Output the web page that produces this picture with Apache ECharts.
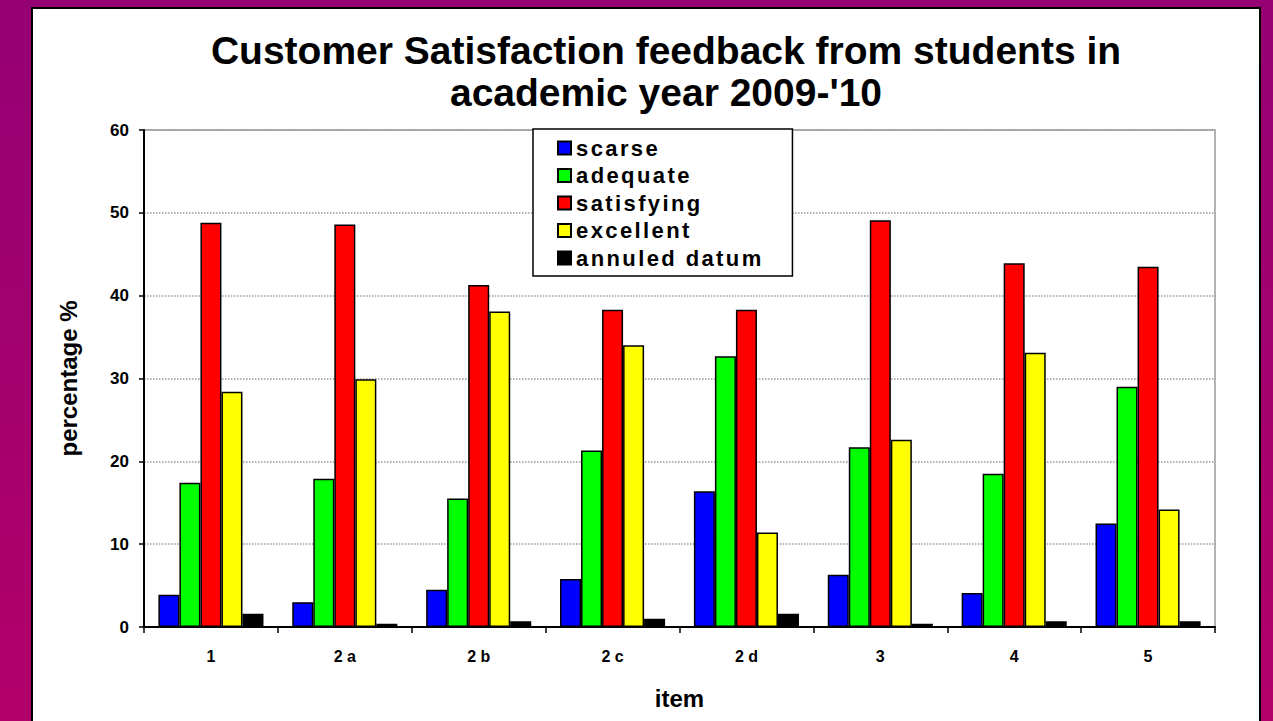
<!DOCTYPE html>
<html><head><meta charset="utf-8">
<script src="https://cdn.jsdelivr.net/npm/echarts@6/dist/echarts.min.js"></script>
<style>html,body{margin:0;padding:0;background:#a0006e;} #chart{width:1273px;height:721px;}</style>
</head><body><div id="chart"></div>
<script>
const categories = ['1', '2 a', '2 b', '2 c', '2 d', '3', '4', '5'];
const scarse     = [3.9, 3.0, 4.5, 5.8, 16.4, 6.3, 4.1, 12.5];
const adequate   = [17.4, 17.9, 15.5, 21.3, 32.7, 21.7, 18.5, 29.0];
const satisfying = [48.8, 48.6, 41.3, 38.3, 38.3, 49.1, 43.9, 43.5];
const excellent  = [28.4, 29.9, 38.1, 34.0, 11.4, 22.6, 33.1, 14.2];
const annuled    = [1.6, 0.4, 0.7, 1.0, 1.6, 0.4, 0.7, 0.7];
const seriesNames = ['scarse', 'adequate', 'satisfying', 'excellent', 'annuled datum'];
const seriesColors = ['#0000ff', '#00ff00', '#ff0000', '#ffff00', '#000000'];
const seriesData = [scarse, adequate, satisfying, excellent, annuled];

const FONT = "'Liberation Sans', Arial, sans-serif";
const chart = echarts.init(document.getElementById('chart'), null, {renderer: 'svg'});

const option = {
  animation: false,
  backgroundColor: {
    type: 'linear', x: 0, y: 0, x2: 0, y2: 1,
    colorStops: [{offset: 0, color: '#950073'}, {offset: 1, color: '#b2006a'}]
  },
  graphic: [{
    type: 'rect', z: -100,
    shape: {x: 32, y: 8, width: 1228, height: 740},
    style: {fill: '#ffffff', stroke: '#000000', lineWidth: 2}
  }],
  title: {
    text: "Customer Satisfaction feedback from students in\nacademic year 2009-'10",
    left: 661, top: 24, textAlign: 'center',
    textStyle: {fontFamily: FONT, fontWeight: 'bold', fontSize: 39, lineHeight: 42, color: '#000'}
  },
  legend: {
    orient: 'vertical', left: 533, top: 129,
    data: seriesNames,
    icon: 'rect',
    itemWidth: 13, itemHeight: 13, itemGap: 5.5,
    padding: [8, 60, 7, 24],
    backgroundColor: '#ffffff', borderColor: '#000000', borderWidth: 1.5,
    textStyle: {fontFamily: FONT, fontWeight: 'bold', fontSize: 22, color: '#000'}
  },
  grid: {
    left: 144, right: 58, top: 130, bottom: 94,
    show: true, borderColor: '#999999', borderWidth: 1.5, backgroundColor: 'transparent'
  },
  xAxis: {
    type: 'category', data: categories,
    name: 'item', nameLocation: 'middle', nameGap: 59,
    nameTextStyle: {fontFamily: FONT, fontWeight: 'bold', fontSize: 24, color: '#000'},
    axisLine: {lineStyle: {color: '#000', width: 2}},
    axisTick: {show: true, length: 6, lineStyle: {color: '#000', width: 1.5}},
    axisLabel: {fontFamily: FONT, fontWeight: 'bold', fontSize: 16, color: '#000', margin: 21}
  },
  yAxis: {
    type: 'value', min: 0, max: 60, interval: 10,
    name: 'percentage %', nameLocation: 'middle', nameGap: 64,
    nameTextStyle: {fontFamily: FONT, fontWeight: 'bold', fontSize: 24, color: '#000'},
    axisLine: {show: true, lineStyle: {color: '#000', width: 2}},
    axisTick: {show: true, length: 5, lineStyle: {color: '#000', width: 1.5}},
    axisLabel: {fontFamily: FONT, fontWeight: 'bold', fontSize: 17, color: '#000', margin: 15},
    splitLine: {show: true, lineStyle: {color: '#999999', type: 'dotted', width: 1.5}}
  },
  series: seriesNames.map((n, i) => ({
    name: n, type: 'bar', data: seriesData[i],
    barGap: '0%', barCategoryGap: '21.5%',
    itemStyle: {color: seriesColors[i], borderColor: '#000', borderWidth: 1.5}
  }))
};
chart.setOption(option);

function spaceLegend() {
  document.querySelectorAll('#chart svg text').forEach(t => {
    if (seriesNames.indexOf(t.textContent) >= 0) t.setAttribute('letter-spacing', '2.4px');
  });
}
chart.on('finished', spaceLegend);
spaceLegend();
</script></body></html>
